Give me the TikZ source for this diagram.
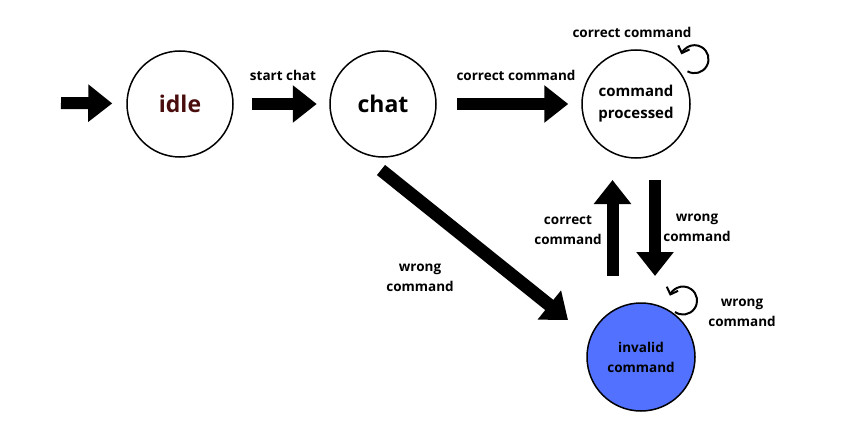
\documentclass[tikz,border=0pt]{standalone}
\usepackage{fontspec}
\setmainfont{Open Sans}
\usetikzlibrary{arrows.meta}
\definecolor{idlered}{HTML}{4A0D0D}
\definecolor{invblue}{HTML}{5271FF}
\begin{document}
\begin{tikzpicture}[x=1pt,y=1pt]
	\tikzstyle{state} = [circle,draw=black,line width=1.5pt,minimum size=106pt,inner sep=0pt,align=center]
	\tikzstyle{bigstate} = [state,minimum size=108pt,font=\bfseries\fontsize{15}{22}\selectfont]
	\tikzstyle{block} = [line width=12pt,-{Triangle[length=24pt,width=36pt]}]
	\tikzstyle{loop} = [line width=2pt,-{Straight Barb[length=6pt,width=12pt]}]
	\tikzstyle{lbl} = [align=center,font=\bfseries\fontsize{13.5}{20}\selectfont]
	\useasboundingbox (0,0) rectangle (842,-422);
	% states
	\node[state,font=\bfseries\fontsize{23}{26}\selectfont,text=idlered] (idle) at (180,-104) {idle};
	\node[state,font=\bfseries\fontsize{23}{26}\selectfont] (chat) at (383,-104) {chat};
	\node[bigstate] (proc) at (636,-104) {command\\processed};
	\node[bigstate,fill=invblue,font=\bfseries\fontsize{13.5}{20}\selectfont] (invalid) at (641,-357) {invalid\\command};
	\coordinate (start) at (61,-103);
	% transitions
	\draw[block,shorten >=14pt] (start) -- (idle);
	\draw[block,shorten <=18pt,shorten >=12.5pt] (idle) -- (chat);
	\draw[block,shorten <=20pt,shorten >=13pt] (chat) -- (proc);
	\draw[block,line width=13pt] ([shift={(-2,-66)}]chat.center) -- ([shift={(-73,37)}]invalid.center);
	\draw[block] ([shift={(-28.5,81)}]invalid.center) -- ([shift={(-23.5,-76)}]proc.center);
	\draw[block] ([shift={(19,-76)}]proc.center) -- ([shift={(14,81)}]invalid.center);
	% self loops
	\draw[loop] ([shift={(51.5,32.7)}]proc.center) arc[start angle=-120,end angle=160,radius=14];
	\draw[loop] ([shift={(34,45)}]invalid.center) arc[start angle=-125,end angle=160,radius=14];
	% labels
	\node[lbl] (l_start) at (283,-75) {start chat};
	\node[lbl] (l_corr1) at (516,-75) {correct command};
	\node[lbl] (l_corr2) at (632,-32) {correct command};
	\node[lbl] (l_wrong1) at (420,-278) {wrong\\command};
	\node[lbl] (l_corr3) at (568,-230) {correct\\command};
	\node[lbl] (l_wrong2) at (697,-228) {wrong\\command};
	\node[lbl] (l_wrong3) at (742,-313) {wrong\\command};
\end{tikzpicture}
\end{document}
